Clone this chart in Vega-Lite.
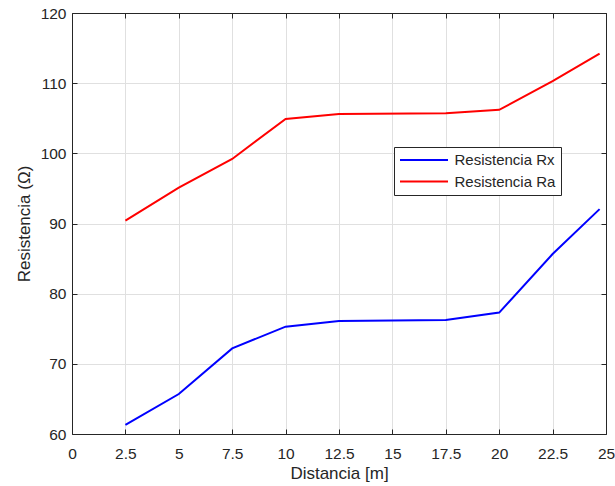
{
  "$schema": "https://vega.github.io/schema/vega-lite/v6.json",
  "width": 534,
  "height": 421,
  "autosize": {"type": "none"},
  "padding": {"left": 72, "top": 13, "right": 9, "bottom": 52},
  "background": "white",
  "config": {
    "font": "Liberation Sans",
    "view": {"stroke": null},
    "axis": {
      "domainColor": "#262626",
      "domainWidth": 1,
      "tickColor": "#262626",
      "tickSize": -5,
      "labelColor": "#262626",
      "titleColor": "#262626",
      "labelFont": "Liberation Sans",
      "titleFont": "Liberation Sans",
      "labelFontSize": 15.5,
      "titleFontSize": 17,
      "titleFontWeight": "normal",
      "gridColor": "#e0e0e0",
      "gridWidth": 1
    },
    "legend": {
      "labelFont": "Liberation Sans",
      "labelFontSize": 15,
      "labelColor": "#262626"
    }
  },
  "data": {
    "values": [
      {"d": 2.5, "r": 61.3, "serie": "Resistencia Rx"},
      {"d": 5, "r": 65.7, "serie": "Resistencia Rx"},
      {"d": 7.5, "r": 72.2, "serie": "Resistencia Rx"},
      {"d": 10, "r": 75.3, "serie": "Resistencia Rx"},
      {"d": 12.5, "r": 76.1, "serie": "Resistencia Rx"},
      {"d": 17.5, "r": 76.25, "serie": "Resistencia Rx"},
      {"d": 20, "r": 77.3, "serie": "Resistencia Rx"},
      {"d": 22.5, "r": 85.65, "serie": "Resistencia Rx"},
      {"d": 24.7, "r": 92.05, "serie": "Resistencia Rx"},
      {"d": 2.5, "r": 90.4, "serie": "Resistencia Ra"},
      {"d": 5, "r": 95.1, "serie": "Resistencia Ra"},
      {"d": 7.5, "r": 99.2, "serie": "Resistencia Ra"},
      {"d": 10, "r": 104.9, "serie": "Resistencia Ra"},
      {"d": 12.5, "r": 105.6, "serie": "Resistencia Ra"},
      {"d": 17.5, "r": 105.7, "serie": "Resistencia Ra"},
      {"d": 20, "r": 106.2, "serie": "Resistencia Ra"},
      {"d": 22.5, "r": 110.3, "serie": "Resistencia Ra"},
      {"d": 24.7, "r": 114.2, "serie": "Resistencia Ra"}
    ]
  },
  "layer": [
    {
      "mark": {"type": "line", "strokeWidth": 2},
      "encoding": {
        "x": {
          "field": "d",
          "type": "quantitative",
          "scale": {"domain": [0, 25], "nice": false, "zero": false},
          "axis": {
            "title": "Distancia [m]",
            "values": [0, 2.5, 5, 7.5, 10, 12.5, 15, 17.5, 20, 22.5, 25],
            "labelExpr": "'' + datum.value",
            "labelPadding": 17,
            "titlePadding": 4,
            "labelFlush": false
          }
        },
        "y": {
          "field": "r",
          "type": "quantitative",
          "scale": {"domain": [60, 120], "nice": false, "zero": false},
          "axis": {
            "title": "Resistencia (Ω)",
            "values": [60, 70, 80, 90, 100, 110, 120],
            "labelPadding": 11,
            "titlePadding": 7,
            "labelFlush": false
          }
        },
        "color": {
          "field": "serie",
          "type": "nominal",
          "scale": {"domain": ["Resistencia Rx", "Resistencia Ra"], "range": ["#0000ff", "#ff0000"]},
          "legend": {
            "title": null,
            "orient": "none",
            "legendX": 322,
            "legendY": 134,
            "symbolType": "M-4,0H4",
            "symbolSize": 144,
            "symbolStrokeWidth": 2,
            "symbolOffset": 17,
            "labelOffset": 23,
            "rowPadding": 5.5,
            "padding": 5.5,
            "fillColor": "white",
            "strokeColor": "#262626",
            "cornerRadius": 0
          }
        }
      }
    },
    {
      "mark": {"type": "line", "opacity": 0},
      "encoding": {
        "x": {
          "field": "d",
          "type": "quantitative",
          "axis": {
            "title": null,
            "labels": false,
            "grid": false,
            "values": [0, 2.5, 5, 7.5, 10, 12.5, 15, 17.5, 20, 22.5, 25]
          }
        },
        "y": {
          "field": "r",
          "type": "quantitative",
          "axis": {
            "title": null,
            "labels": false,
            "grid": false,
            "values": [60, 70, 80, 90, 100, 110, 120]
          }
        },
        "detail": {"field": "serie", "type": "nominal"}
      }
    }
  ],
  "resolve": {"axis": {"x": "independent", "y": "independent"}}
}
